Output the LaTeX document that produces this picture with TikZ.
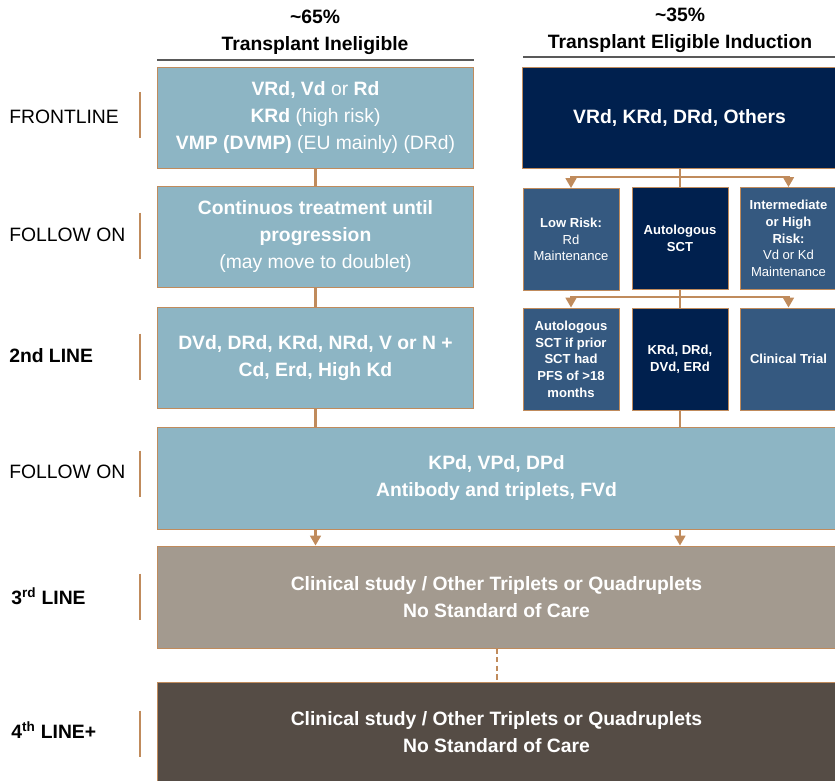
\documentclass[tikz,border=0pt]{standalone}
\usepackage{fontspec}
\setmainfont{Liberation Sans}
\usetikzlibrary{arrows.meta}
\definecolor{paleblue}{RGB}{141,181,196}
\definecolor{navy}{RGB}{0,32,78}
\definecolor{steel}{RGB}{53,89,128}
\definecolor{stone}{RGB}{163,154,143}
\definecolor{umber}{RGB}{85,76,69}
\definecolor{copper}{RGB}{192,139,92}
\definecolor{rulegray}{RGB}{89,89,89}
\newcommand\txtbig{\fontsize{14.5}{20}\selectfont}
\newcommand\txtsmall{\fontsize{9.8}{12.5}\selectfont}
\newcommand\txtlbl{\fontsize{14.5}{18}\selectfont}

\begin{document}
\begin{tikzpicture}[x=0.75pt, y=-0.75pt, >={Triangle[length=7.5pt,width=8pt]},
  every node/.style={font=\txtbig, text=white, align=center, inner sep=0pt},
  tbox/.style={draw=copper, line width=0.6pt, minimum width=237pt, minimum height=75.75pt},
  sbox/.style={draw=copper, line width=0.6pt, minimum width=72pt, minimum height=76.5pt, font=\txtsmall},
  wbox/.style={draw=copper, line width=0.6pt, minimum width=509pt, minimum height=76.5pt, font=\txtbig\bfseries},
  link/.style={draw=copper, line width=2pt},
  lbl/.style={text=black, anchor=west, font=\txtlbl},
  bar/.style={draw=copper, line width=1.6pt},
  rule/.style={draw=rulegray, line width=2pt}]
  \useasboundingbox (0,0) rectangle (835,781);

  % headers
  \node[text=black, font=\txtbig\bfseries] (hin) at (315,32.5) {\textasciitilde65\%\\Transplant Ineligible};
  \node[text=black, font=\txtbig\bfseries] (hel) at (680,30) {\textasciitilde35\%\\Transplant Eligible Induction};
  \draw[rule] (157,60) -- (474,60);
  \draw[rule] (523,57) -- (835,57);

  % transplant ineligible
  \node[tbox, fill=paleblue] (lf1) at (315.5,117.5) {\textbf{VRd, Vd} or \textbf{Rd}\\\textbf{KRd} (high risk)\\\textbf{VMP (DVMP)} (EU mainly) (DRd)};
  \node[tbox, fill=paleblue] (lf2) at (315.5,236.5) {\textbf{Continuos treatment until}\\\textbf{progression}\\(may move to doublet)};
  \node[tbox, fill=paleblue, font=\txtbig\bfseries] (lf3) at (315.5,358) {DVd, DRd, KRd, NRd, V or N +\\Cd, Erd, High Kd};

  % transplant eligible
  \node[tbox, fill=navy, minimum width=235pt, font=\txtbig\bfseries] (nav) at (679.5,117.5) {VRd, KRd, DRd, Others};
  \node[sbox, fill=steel] (low) at (571,239.5) {\textbf{Low Risk:}\\Rd\\Maintenance};
  \node[sbox, fill=navy, font=\txtsmall\bfseries] (auto) at (680,238.5) {Autologous\\SCT};
  \node[sbox, fill=steel] (inter) at (788.5,238.5) {\textbf{Intermediate}\\\textbf{or High}\\\textbf{Risk:}\\Vd or Kd\\Maintenance};
  \node[sbox, fill=steel, font=\txtsmall\bfseries] (asct) at (571,359) {Autologous\\SCT if prior\\SCT had\\PFS of >18\\months};
  \node[sbox, fill=navy, font=\txtsmall\bfseries] (krd) at (680,359) {KRd, DRd,\\DVd, ERd};
  \node[sbox, fill=steel, font=\txtsmall\bfseries] (trial) at (788.5,359) {Clinical Trial};

  % later lines
  \node[wbox, fill=paleblue] (fol) at (496.5,478) {KPd, VPd, DPd\\Antibody and triplets, FVd};
  \node[wbox, fill=stone] (third) at (496.5,597) {Clinical study / Other Triplets or Quadruplets\\No Standard of Care};
  \node[wbox, fill=umber, minimum height=75pt] (fourth) at (496.5,732) {Clinical study / Other Triplets or Quadruplets\\No Standard of Care};

  % row labels
  \node[lbl] (tfront) at (9,117) {FRONTLINE};
  \node[lbl] (tfol1) at (9,235) {FOLLOW ON};
  \node[lbl, font=\txtlbl\bfseries] (tsec) at (9,356) {2nd LINE};
  \node[lbl] (tfol2) at (9,472) {FOLLOW ON};
  \node[lbl, font=\txtlbl\bfseries] (tthird) at (11,596) {3\textsuperscript{rd} LINE};
  \node[lbl, font=\txtlbl\bfseries] (tfourth) at (11,730) {4\textsuperscript{th} LINE+};
  \foreach \y in {115,235.5,356.5,473.5,596.5,733.5}
    \draw[bar] (140,\y-23) -- (140,\y+23);

  % connectors
  \draw[link] (lf1) -- (lf2);
  \draw[link] (lf2) -- (lf3);
  \draw[link] (lf3.south) -- (lf3.south |- fol.north);
  \draw[link] (auto.north |- nav.south) -- (auto.north);
  \coordinate (fork1) at (680,177);
  \draw[link,->] (fork1) -| (low.north);
  \draw[link,->] (fork1) -| (inter.north);
  \draw[link] (auto) -- (krd);
  \coordinate (fork2) at (680,297);
  \draw[link,->] (fork2) -| (asct.north);
  \draw[link,->] (fork2) -| (trial.north);
  \draw[link] (krd.south) -- (krd.south |- fol.north);
  \draw[link,->] (lf3.south |- fol.south) -- (lf3.south |- third.north);
  \draw[link,->] (krd.south |- fol.south) -- (krd.south |- third.north);
  \draw[link, line width=1.5pt, dash pattern=on 4pt off 2.5pt] (third.south) -- (fourth.north);
\end{tikzpicture}
\end{document}
